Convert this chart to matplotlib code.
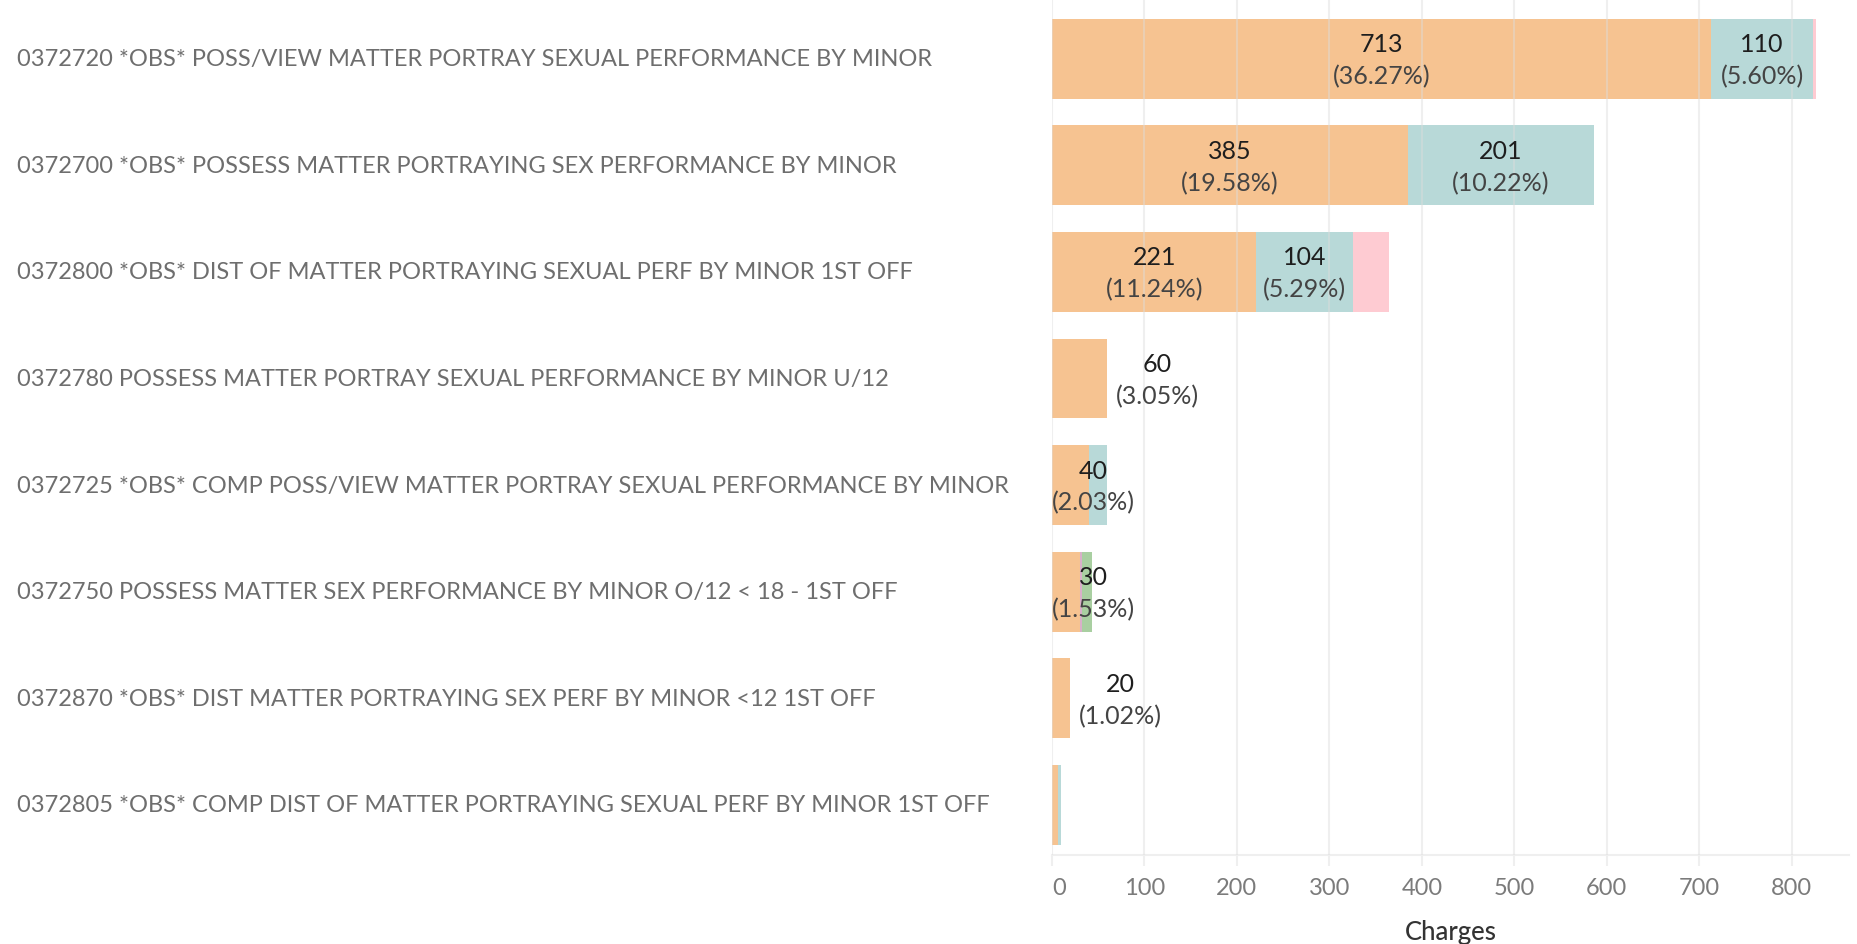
import matplotlib
matplotlib.use("Agg")
import matplotlib.pyplot as plt
import matplotlib.transforms as mtransforms
import numpy as np

# --- data ---
categories = [
    "0372720 *OBS* POSS/VIEW MATTER PORTRAY SEXUAL PERFORMANCE BY MINOR",
    "0372700 *OBS* POSSESS MATTER PORTRAYING SEX PERFORMANCE BY MINOR",
    "0372800 *OBS* DIST OF MATTER PORTRAYING SEXUAL PERF BY MINOR 1ST OFF",
    "0372780 POSSESS MATTER PORTRAY SEXUAL PERFORMANCE BY MINOR U/12",
    "0372725 *OBS* COMP POSS/VIEW MATTER PORTRAY SEXUAL PERFORMANCE BY MINOR",
    "0372750 POSSESS MATTER SEX PERFORMANCE BY MINOR O/12 < 18 - 1ST OFF",
    "0372870 *OBS* DIST MATTER PORTRAYING SEX PERF BY MINOR <12 1ST OFF",
    "0372805 *OBS* COMP DIST OF MATTER PORTRAYING SEXUAL PERF BY MINOR 1ST OFF",
]
s_orange = [713, 385, 221, 60, 40, 30, 20, 6]
s_teal = [110, 201, 104, 0, 20, 0, 0, 4]
s_pink = [3, 0, 39, 0, 0, 0, 0, 0]
s_purple = [0, 0, 0, 0, 0, 2, 0, 0]
s_green = [0, 0, 0, 0, 0, 11, 0, 0]
total_charges = 1966
xticks = [0, 100, 200, 300, 400, 500, 600, 700, 800]

# which segments get a label: (row, series index) ; series 0=orange, 1=teal
labeled = [(0, 0), (0, 1), (1, 0), (1, 1), (2, 0), (2, 1), (3, 0), (4, 0), (5, 0), (6, 0)]
outside_rows = [3, 6]  # label sits right of the bar end

series = [s_orange, s_teal, s_pink, s_purple, s_green]
colors = ["#F6C391", "#B8D9D8", "#FECBD2", "#D9AFC9", "#A9CFA1"]

FONT = ["Lato", "DejaVu Sans"]
plt.rcParams["font.family"] = FONT
LBL = 18

fig = plt.figure(figsize=(18.58, 9.45), dpi=100)
ax = fig.add_axes([0.5662, 0.0942, 0.4290, 0.9058])

y = np.arange(len(categories))
left = np.zeros(len(categories))
for vals, c in zip(series, colors):
    vals = np.array(vals, dtype=float)
    ax.barh(y, vals, left=left, height=0.75, color=c, linewidth=0, zorder=1)
    left += vals

ax.set_xlim(0, 862)
ax.set_ylim(7.47, -0.56)

# grid drawn faintly over bars, like the reference
ax.set_xticks(xticks)
ax.set_xticklabels([str(t) for t in xticks])
ax.grid(axis="x", color="#dcdcdc", alpha=0.45, linewidth=1.5, zorder=2)
ax.set_axisbelow(False)
ax.set_yticks([])
for sp in ["top", "right", "left"]:
    ax.spines[sp].set_visible(False)
ax.spines["bottom"].set_color("#efefef")
ax.spines["bottom"].set_linewidth(1.5)
ax.tick_params(axis="x", length=8, width=1.5, color="#efefef", pad=8,
               labelsize=17, labelcolor="#7b7b7b")
ax.get_xticklabels()[0].set_horizontalalignment("left")
ax.set_xlabel("Charges", fontsize=18.5, color="#333333", labelpad=15, fontweight="medium")

# category labels, left aligned at the figure edge
trans = mtransforms.blended_transform_factory(fig.transFigure, ax.transData)
for i, name in enumerate(categories):
    ax.text(17 / 1858, i, name, transform=trans, ha="left", va="center",
            fontsize=17, color="#6e6e6e", clip_on=False)

# segment labels: value over percent
fig.canvas.draw()
renderer = fig.canvas.get_renderer()
px_per_unit = ax.transData.transform((1, 0))[0] - ax.transData.transform((0, 0))[0]
for row, si in labeled:
    starts = sum(series[k][row] for k in range(si))
    v = series[si][row]
    pct = f"({v / total_charges * 100:.2f}%)"
    probe = ax.text(0, 0, pct, fontsize=LBL)
    w = probe.get_window_extent(renderer).width / px_per_unit
    probe.remove()
    if row in outside_rows:
        xc = starts + v + 8 / px_per_unit + w / 2
    else:
        xc = max(starts + v / 2, w / 2)
    ax.annotate(str(v), (xc, row), xytext=(0, 15), textcoords="offset pixels",
                ha="center", va="center", fontsize=LBL, color="#1e1e1e", zorder=3)
    ax.annotate(pct, (xc, row), xytext=(0, -17), textcoords="offset pixels",
                ha="center", va="center", fontsize=LBL, color="#444444", zorder=3)

fig.savefig("out.png", dpi=100)
